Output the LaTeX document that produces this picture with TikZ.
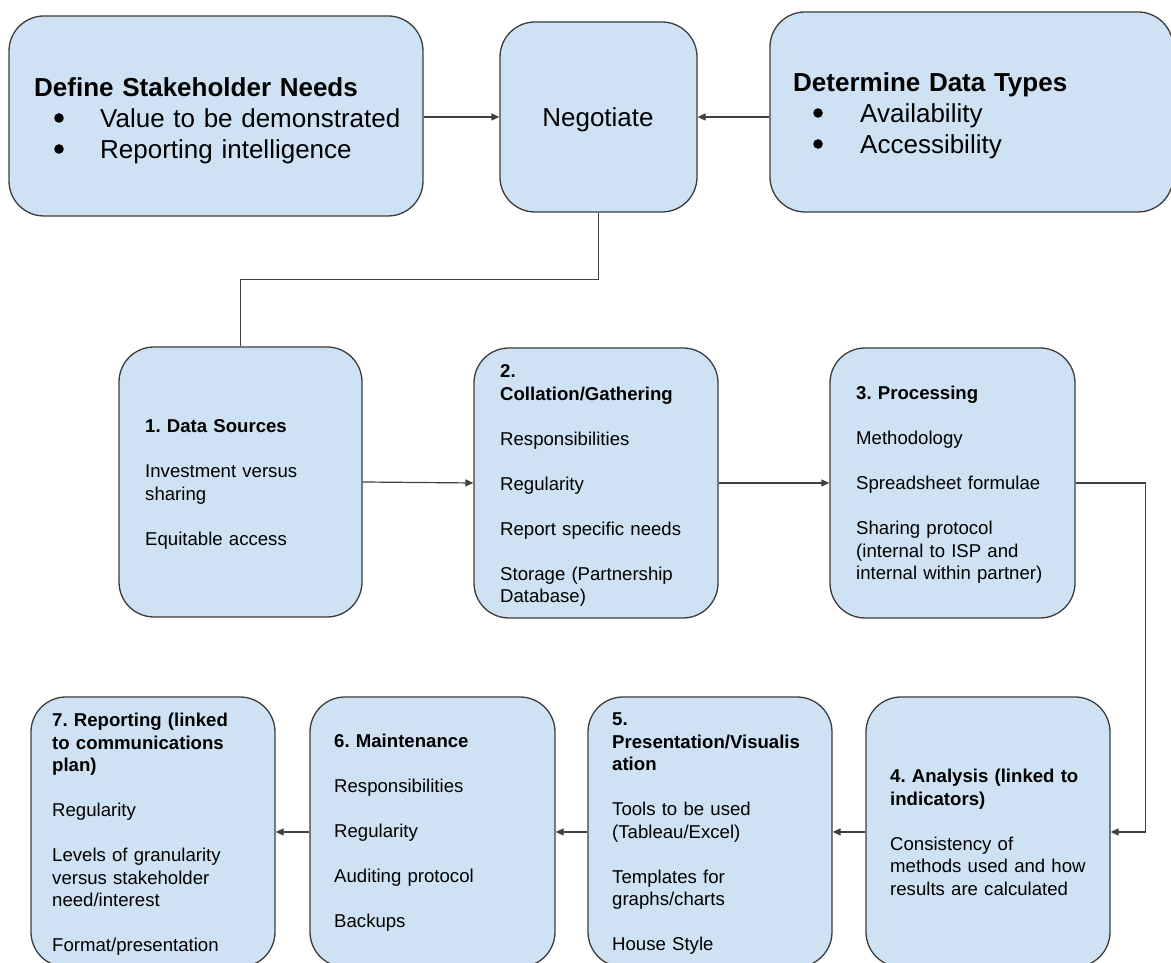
\documentclass[tikz,border=0pt]{standalone}
\usepackage{fontspec}
\setmainfont{Liberation Sans}
\usetikzlibrary{arrows.meta}
\frenchspacing
\definecolor{boxfill}{HTML}{CFE2F3}
\definecolor{boxline}{HTML}{3C3C3C}
\definecolor{conline}{HTML}{404040}
\newcommand{\dfsmall}{\fontsize{18.6}{22.5}\selectfont}
\newcommand{\dfbig}{\fontsize{26}{31}\selectfont}
\tikzset{
  box/.style={draw=boxline, line width=1.3pt, fill=boxfill, rounded corners=35pt, inner sep=0pt},
  boxtext/.style={anchor=base west, inner sep=0pt, text width=240pt, align=left, font=\dfsmall, text=black},
  bigtext/.style={anchor=base west, inner sep=0pt, text width=380pt, align=left, font=\dfbig, text=black},
  bulletdot/.style={fill=black, draw=none},
  conn/.style={draw=conline, line width=1.2pt},
  arr/.style={conn, -{Triangle[length=8pt, width=7pt]}}
}
\begin{document}
\begin{tikzpicture}[x=1pt, y=1pt]
\useasboundingbox (0,0) rectangle (1171,963);
\fill[white] (0,0) rectangle (1171,963);
\clip (0,0) rectangle (1171,963);
% top row
\node[box, minimum width=414pt, minimum height=200pt] (def) at (216,847) {};
\node[box, minimum width=197pt, minimum height=190pt] (neg) at (598.5,846) {};
\node[box, minimum width=403pt, minimum height=200pt] (det) at (971.5,851) {};
% middle row
\node[box, minimum width=243pt, minimum height=270pt] (b1) at (240.5,481) {};
\node[box, minimum width=244pt, minimum height=270pt] (b2) at (596,480) {};
\node[box, minimum width=245pt, minimum height=270pt] (b3) at (952.5,480) {};
% bottom row
\node[box, minimum width=244pt, minimum height=270pt] (b7) at (153,131) {};
\node[box, minimum width=245pt, minimum height=270pt] (b6) at (432.5,131) {};
\node[box, minimum width=244pt, minimum height=270pt] (b5) at (710,131) {};
\node[box, minimum width=244pt, minimum height=270pt] (b4) at (988,131) {};
% texts top
\node[bigtext] (tdef) at (34,866) {\textbf{Define Stakeholder Needs}\\
\hspace*{66pt}Value to be demonstrated\\
\hspace*{66pt}Reporting intelligence};
\fill[bulletdot] (59,845) circle (4.8pt);
\fill[bulletdot] (59,814) circle (4.8pt);
\node[font=\dfbig, inner sep=0pt, anchor=base] (tneg) at (598,836) {Negotiate};
\node[bigtext] (tdet) at (793,871) {\textbf{Determine Data Types}\\
\hspace*{67pt}Availability\\
\hspace*{67pt}Accessibility};
\fill[bulletdot] (818,850) circle (4.8pt);
\fill[bulletdot] (818,819) circle (4.8pt);
% texts middle
\node[boxtext] (t1) at (145,530) {\textbf{1. Data Sources}\\[22.5pt]
Investment versus\\sharing\\[22.5pt]Equitable access};
\node[boxtext] (t2) at (500,585) {\textbf{2.}\\\textbf{Collation/Gathering}\\[22.5pt]
Responsibilities\\[22.5pt]Regularity\\[22.5pt]Report specific needs\\[22.5pt]Storage (Partnership\\Database)};
\node[boxtext] (t3) at (856,563) {\textbf{3. Processing}\\[22.5pt]
Methodology\\[22.5pt]Spreadsheet formulae\\[22.5pt]Sharing protocol\\(internal to ISP and\\internal within partner)};
% texts bottom
\node[boxtext] (t7) at (52,236) {\textbf{7. Reporting (linked}\\\textbf{to communications}\\\textbf{plan)}\\[22.5pt]
Regularity\\[22.5pt]Levels of granularity\\versus stakeholder\\need/interest\\[22.5pt]Format/presentation};
\node[boxtext] (t6) at (334,215) {\textbf{6. Maintenance}\\[22.5pt]
Responsibilities\\[22.5pt]Regularity\\[22.5pt]Auditing protocol\\[22.5pt]Backups};
\node[boxtext] (t5) at (612,237) {\textbf{5.}\\\textbf{Presentation/Visualis}\\\textbf{ation}\\[22.5pt]
Tools to be used\\(Tableau/Excel)\\[22.5pt]Templates for\\graphs/charts\\[22.5pt]House Style};
\node[boxtext] (t4) at (890,180) {\textbf{4. Analysis (linked to}\\\textbf{indicators)}\\[22.5pt]
Consistency of\\methods used and how\\results are calculated};
% connectors
\draw[arr] (def.east |- neg.west) -- (neg.west);
\draw[arr] (det.west |- neg.east) -- (neg.east);
\draw[conn] (neg.south) -- ++(0,-67) -| (b1.north);
\draw[arr] (b1.east) -- (b2.west);
\draw[arr] (b2.east) -- (b3.west);
\draw[arr] (b3.east) -- ++(70,0) |- (b4.east);
\draw[arr] (b4.west) -- (b5.east);
\draw[arr] (b5.west) -- (b6.east);
\draw[arr] (b6.west) -- (b7.east);
\end{tikzpicture}
\end{document}
